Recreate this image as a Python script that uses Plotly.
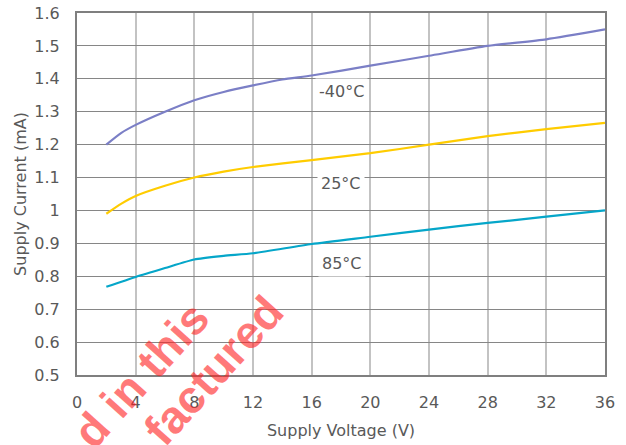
import plotly.graph_objects as go

# Data
voltage_m40 = [2, 3, 4, 6, 8, 10, 12, 14, 16, 20, 24, 28, 32, 36]
current_m40 = [1.20, 1.235, 1.26, 1.30, 1.335, 1.36, 1.38, 1.398, 1.41, 1.44, 1.47, 1.50, 1.52, 1.55]

voltage_25 = [2, 3, 4, 6, 8, 10, 12, 16, 20, 24, 28, 32, 36]
current_25 = [0.99, 1.02, 1.044, 1.075, 1.10, 1.118, 1.132, 1.153, 1.174, 1.20, 1.226, 1.247, 1.266]

voltage_85 = [2, 4, 6, 8, 10, 12, 16, 20, 24, 28, 32, 36]
current_85 = [0.768, 0.798, 0.825, 0.851, 0.862, 0.870, 0.898, 0.920, 0.942, 0.962, 0.981, 1.00]

series_names = ["-40°C", "25°C", "85°C"]
series_colors = ["#7b7fc6", "#ffcc00", "#05a6c9"]
label_x = [18.0, 18.0, 18.1]
label_y = [1.36, 1.083, 0.840]

x_ticks = [0, 4, 8, 12, 16, 20, 24, 28, 32, 36]
y_ticks = [0.5, 0.6, 0.7, 0.8, 0.9, 1.0, 1.1, 1.2, 1.3, 1.4, 1.5, 1.6]
y_tick_text = ["0.5", "0.6", "0.7", "0.8", "0.9", "1", "1.1", "1.2", "1.3", "1.4", "1.5", "1.6"]

FONT = "DejaVu Sans"
TXT = "#595959"
FS = 16

fig = go.Figure()
for xs, ys, name, col in zip([voltage_m40, voltage_25, voltage_85],
                             [current_m40, current_25, current_85],
                             series_names, series_colors):
    fig.add_trace(go.Scatter(x=xs, y=ys, mode="lines", name=name,
                             line=dict(color=col, width=2.2, shape="spline", smoothing=0.6),
                             hoverinfo="skip"))

for name, lx, ly in zip(series_names, label_x, label_y):
    fig.add_annotation(x=lx, y=ly, xref="x", yref="y", text=name, showarrow=False,
                       font=dict(family=FONT, size=FS, color=TXT),
                       bgcolor="white", borderpad=3)

# Watermark fragments
L, R, T, B = 77, 21, 13, 70
W, H = 626, 445
pw, ph = W - L - R, H - T - B


def px2paper(px, py):
    return (px - L) / pw, (H - B - py) / ph


for txt, (cx, cy) in [("d in this", (141, 375)), ("factured", (213, 371))]:
    xp, yp = px2paper(cx, cy)
    fig.add_annotation(x=xp, y=yp, xref="paper", yref="paper", text="<b>" + txt + "</b>",
                       showarrow=False, textangle=-48, xanchor="center", yanchor="middle",
                       font=dict(family="Liberation Sans", size=46, color="rgba(255,30,30,0.6)"))

fig.update_layout(
    width=W, height=H,
    margin=dict(l=L, r=R, t=T, b=B, autoexpand=False),
    paper_bgcolor="white", plot_bgcolor="white",
    showlegend=False,
    font=dict(family=FONT, size=FS, color=TXT),
    xaxis=dict(range=[0, 36], tickvals=x_ticks, showgrid=True, gridcolor="#c3c3c3", gridwidth=2,
               zeroline=False, showline=True, linecolor="#7f7f7f", linewidth=2, mirror=True,
               ticks="", ticklabelstandoff=12, automargin=False,
               title=dict(text="Supply Voltage (V)", standoff=14,
                          font=dict(family=FONT, size=FS, color=TXT)),
               tickfont=dict(family=FONT, size=FS, color=TXT)),
    yaxis=dict(range=[0.5, 1.6], tickvals=y_ticks, ticktext=y_tick_text, showgrid=True,
               gridcolor="#868686", gridwidth=1,
               zeroline=False, showline=True, linecolor="#7f7f7f", linewidth=2, mirror=True,
               ticks="", ticklabelstandoff=12, automargin=False,
               title=dict(text="Supply Current (mA)", standoff=4,
                          font=dict(family=FONT, size=FS, color=TXT)),
               tickfont=dict(family=FONT, size=FS, color=TXT)),
)

fig.write_html("out.html", config={"displayModeBar": False},
               post_script="document.body.style.margin='0';document.body.style.overflow='hidden';")
